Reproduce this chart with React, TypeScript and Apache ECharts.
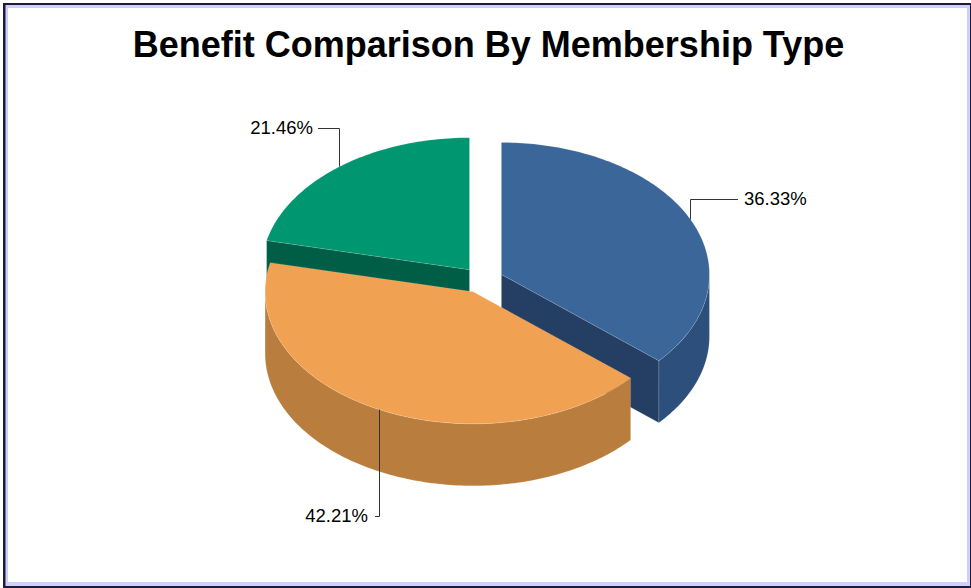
import React, { useEffect, useRef } from "react";
import * as echarts from "echarts";

// Share of benefit by membership type, clockwise from twelve o'clock.
const sliceNames = ["Type A", "Type B", "Type C"];
const sliceShares = [36.33, 42.21, 21.46];

// Top face, outer wall and cut wall shades for each slice.
const topColors = ["#3A6699", "#F0A252", "#009670"];
const outerWallColors = ["#2D4F7B", "#B97E3E", "#00644A"];
const cutWallColors = ["#243F63", "#B97E3E", "#005E46"];

// Painting rank of each slice, back to front.
const paintOrder = [1, 2, 0];

// Leader geometry for each slice: elbow height, end x of the run, label anchor x.
const leaderElbowY = [199, 516, 128];
const leaderEndX = [738, 375, 318];
const labelX = [744, 368, 313];
const labelAlign = ["left", "right", "right"];

const CENTER_X = 482.5;
const CENTER_Y = 280;
const RADIUS_X = 208;
const RADIUS_Y = 132;
const DEPTH = 62;
const EXPLODE = 0.1;
const RIM = "rgba(255,255,255,0.16)";

const rad = (deg: number) => (deg * Math.PI) / 180;

function rimPoint(cx: number, cy: number, deg: number): [number, number] {
  return [cx + RADIUS_X * Math.sin(rad(deg)), cy - RADIUS_Y * Math.cos(rad(deg))];
}

function arcPoints(cx: number, cy: number, from: number, to: number) {
  const steps = Math.max(2, Math.ceil(Math.abs(to - from)));
  const pts: [number, number][] = [];
  for (let i = 0; i <= steps; i++) pts.push(rimPoint(cx, cy, from + ((to - from) * i) / steps));
  return pts;
}

function renderSlice(params: any, api: any) {
  const i = params.dataIndex;
  const total = sliceShares.reduce((a, b) => a + b, 0);
  const before = sliceShares.slice(0, i).reduce((a, b) => a + b, 0);
  const start = (before / total) * 360;
  const end = ((before + api.value(0)) / total) * 360;
  const mid = (start + end) / 2;

  const cx = CENTER_X + EXPLODE * RADIUS_X * Math.sin(rad(mid));
  const cy = CENTER_Y - EXPLODE * RADIUS_Y * Math.cos(rad(mid));
  const base = paintOrder[i] * 10;
  const children: any[] = [];

  const wall = (points: number[][], fill: string, z2: number) =>
    children.push({
      type: "polygon",
      z2,
      shape: { points },
      style: { fill, stroke: RIM, lineWidth: 0.8 },
    });

  // A cut wall shows only when its edge lies on the viewer's side of the centre.
  const cutWall = (edge: [number, number]) =>
    wall(
      [
        [cx, cy],
        edge,
        [edge[0], edge[1] + DEPTH],
        [cx, cy + DEPTH],
      ],
      cutWallColors[i],
      base + 1,
    );
  if (start > 180 && start < 360) cutWall(rimPoint(cx, cy, start));
  if (end > 0 && end < 180) cutWall(rimPoint(cx, cy, end));

  // Outer wall, limited to the front half of the ellipse.
  const wallFrom = Math.max(start, 90);
  const wallTo = Math.min(end, 270);
  if (wallTo > wallFrom) {
    const topArc = arcPoints(cx, cy, wallFrom, wallTo);
    const lowArc = arcPoints(cx, cy + DEPTH, wallTo, wallFrom);
    wall([...topArc, ...lowArc], outerWallColors[i], base + 2);
  }

  // Top face.
  children.push({
    type: "polygon",
    z2: base + 3,
    shape: { points: [[cx, cy], ...arcPoints(cx, cy, start, end)] },
    style: { fill: topColors[i], stroke: RIM, lineWidth: 0.8 },
  });

  // Leader line and percentage label.
  const anchor = rimPoint(cx, cy, mid);
  const ax = Math.floor(anchor[0]) + 0.5;
  children.push({
    type: "polyline",
    z2: 100,
    shape: {
      points: [
        [ax, anchor[1]],
        [ax, leaderElbowY[i] + 0.5],
        [leaderEndX[i], leaderElbowY[i] + 0.5],
      ],
    },
    style: { fill: "none", stroke: "#333333", lineWidth: 1 },
  });
  children.push({
    type: "text",
    z2: 101,
    style: {
      x: labelX[i],
      y: leaderElbowY[i] - 1,
      text: `${api.value(0).toFixed(2)}%`,
      fill: "#000000",
      font: '18.5px "Liberation Sans"',
      align: labelAlign[i],
      verticalAlign: "middle",
    },
  });

  return { type: "group", children };
}

export default function App() {
  const ref = useRef<HTMLDivElement>(null);

  useEffect(() => {
    document.body.style.margin = "0";
    document.body.style.overflow = "hidden";
    const chart = echarts.init(ref.current!, undefined, { renderer: "svg" });
    chart.setOption({
      animation: false,
      backgroundColor: "#FFFFFF",
      title: {
        text: "Benefit Comparison By Membership Type",
        left: 483.5,
        top: 21,
        textAlign: "center",
        textStyle: {
          fontFamily: "Liberation Sans",
          fontWeight: "bold",
          fontSize: 36,
          color: "#000000",
        },
      },
      // Page frame: a dark outer line with a lavender inner band.
      graphic: [
        {
          type: "rect",
          z: -10,
          shape: { x: 3, y: 3, width: 968, height: 585 },
          style: { fill: "#1C1C3A" },
        },
        {
          type: "rect",
          z: -9,
          shape: { x: 5.5, y: 5, width: 964.5, height: 581 },
          style: { fill: "#CFCFFF" },
        },
        {
          type: "rect",
          z: -8,
          shape: { x: 8, y: 8, width: 959, height: 574 },
          style: { fill: "#FFFFFF" },
        },
      ],
      series: [
        {
          type: "custom",
          coordinateSystem: "none",
          silent: true,
          renderItem: renderSlice,
          data: sliceNames.map((name, i) => ({ name, value: [sliceShares[i]] })),
        },
      ],
    });
    return () => chart.dispose();
  }, []);

  return <div ref={ref} style={{ width: 971, height: 588 }} />;
}
